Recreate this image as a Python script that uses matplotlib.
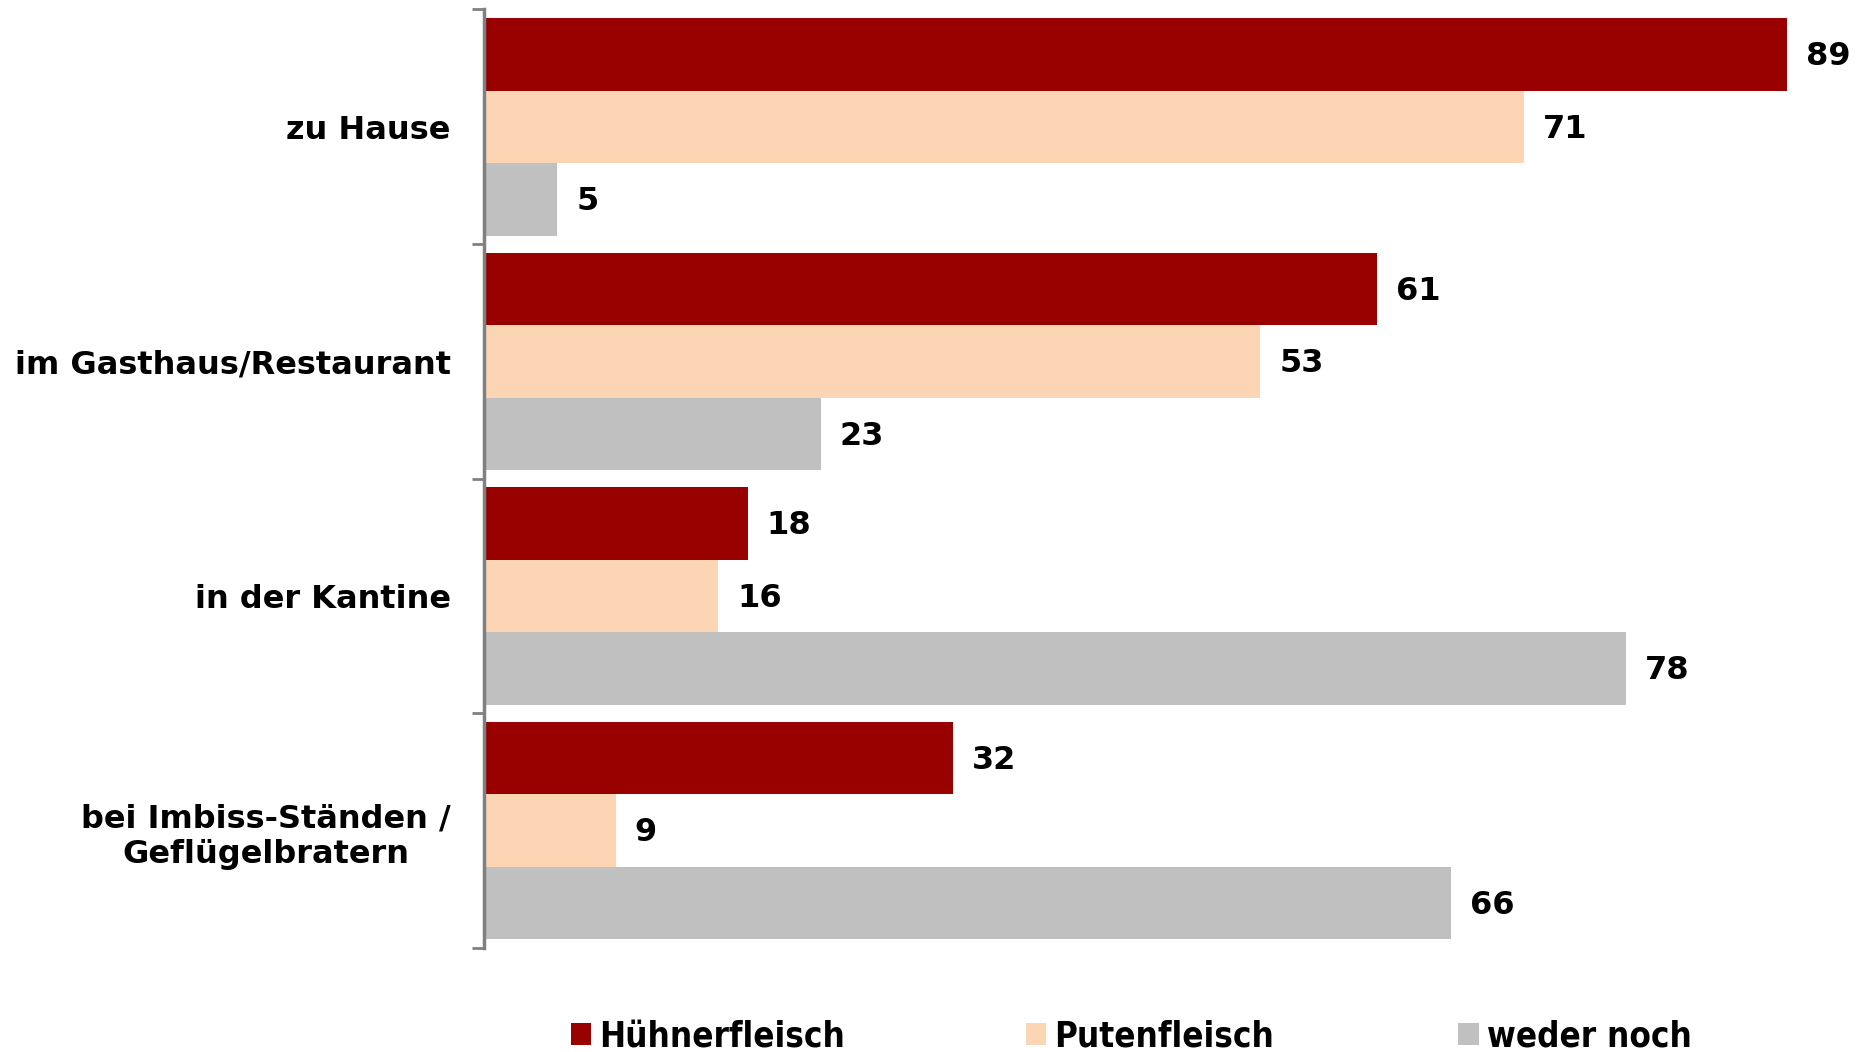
import numpy as np
import matplotlib
matplotlib.use("Agg")
import matplotlib.pyplot as plt
from matplotlib.patches import Patch

categories = ["zu Hause", "im Gasthaus/Restaurant", "in der Kantine",
              "bei Imbiss-Ständen /\nGeflügelbratern"]
series_names = ["Hühnerfleisch", "Putenfleisch", "weder noch"]
huehner = [89, 61, 18, 32]
puten = [71, 53, 16, 9]
weder = [5, 23, 78, 66]
colors = ["#990000", "#FCD5B5", "#C0C0C0"]

fig = plt.figure(figsize=(18.65, 10.52), dpi=100)
ax = fig.add_axes([0.2595, 0.099, 0.7405, 0.892])

n = len(categories)
bar_h = 0.309
y_centers = np.arange(n)
for i, (vals, col) in enumerate(zip([huehner, puten, weder], colors)):
    ys = y_centers + (i - 1) * bar_h
    ax.barh(ys, vals, height=bar_h, color=col, edgecolor="none")
    for y, v in zip(ys, vals):
        ax.text(v + 1.3, y + 0.01, str(v), va="center", ha="left",
                fontsize=23, fontweight="bold", color="black")

ax.set_ylim(n - 0.5, -0.5)
ax.set_xlim(0, 94.3)

# tick marks at category boundaries, labels at centers
ax.set_yticks(np.arange(n + 1) - 0.5)
ax.set_yticklabels([])
ax.set_yticks(y_centers, minor=True)
ax.set_yticklabels(categories, minor=True, fontsize=23, fontweight="bold")
ax.tick_params(axis="y", which="major", length=9, width=2, color="#808080")
ax.tick_params(axis="y", which="minor", length=0, pad=24)
for lbl in ax.get_yticklabels(minor=True):
    lbl.set_multialignment("center")

ax.set_xticks([])
for s in ["top", "right", "bottom"]:
    ax.spines[s].set_visible(False)
ax.spines["left"].set_color("#808080")
ax.spines["left"].set_linewidth(2.5)

# legend entries placed one by one
leg_x = [0.306, 0.550, 0.782]
for name, col, x in zip(series_names, colors, leg_x):
    leg = fig.legend([Patch(facecolor=col, edgecolor="none")], [name],
                     loc="center left", bbox_to_anchor=(x, 0.015),
                     frameon=False, handlelength=0.58, handleheight=0.58,
                     handletextpad=0.25, borderpad=0, borderaxespad=0,
                     prop={"family": "DejaVu Sans", "stretch": "condensed",
                           "weight": "bold", "size": 25})

fig.savefig("out.png", dpi=100)
